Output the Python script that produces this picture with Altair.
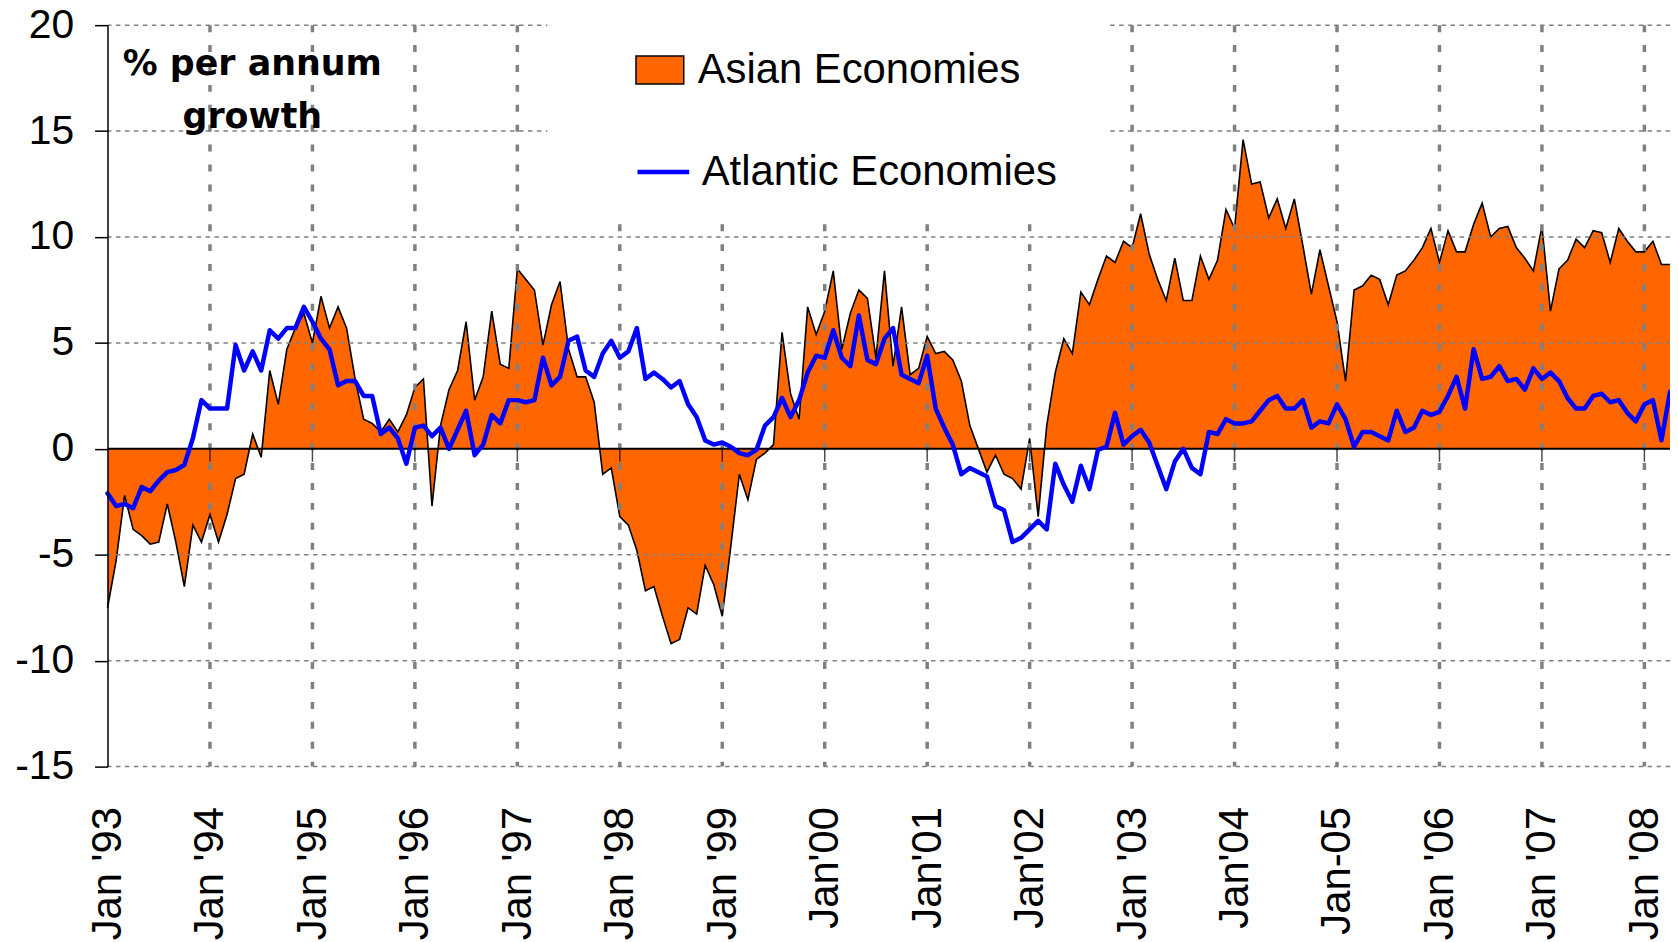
import json
import altair as alt
import pandas as pd

# Monthly data, Jan 1993 .. Apr 2008 (% per annum growth)
asian = [
    -7.5, -5.3, -2.2, -3.8, -4.1, -4.5, -4.4, -2.6, -4.4, -6.5, -3.6, -4.4,   # 1993
    -3.1, -4.4, -3.1, -1.4, -1.2, 0.7, -0.4, 3.7, 2.1, 4.7, 5.7, 6.4,         # 1994
    5.0, 7.2, 5.7, 6.7, 5.7, 3.3, 1.4, 1.2, 0.8, 1.4, 0.8, 1.6,               # 1995
    2.9, 3.3, -2.7, 1.1, 2.8, 3.7, 6.0, 2.3, 3.4, 6.5, 4.0, 3.8,              # 1996
    8.5, 8.0, 7.5, 4.9, 6.8, 7.9, 4.7, 3.4, 3.4, 2.2, -1.2, -0.9,             # 1997
    -3.2, -3.6, -4.8, -6.7, -6.5, -7.9, -9.2, -9.0, -7.5, -7.8, -5.5, -6.4,   # 1998
    -7.9, -4.6, -1.2, -2.4, -0.5, -0.2, 0.2, 5.5, 2.6, 1.4, 6.7, 5.4,         # 1999
    6.5, 8.4, 4.7, 6.4, 7.5, 7.1, 4.3, 8.4, 3.9, 6.7, 3.5, 3.8,               # 2000
    5.3, 4.5, 4.6, 4.2, 3.2, 1.1, 0.0, -1.1, -0.3, -1.2, -1.4, -1.9,          # 2001
    0.5, -3.2, 1.1, 3.6, 5.2, 4.5, 7.4, 6.8, 8.0, 9.1, 8.8, 9.8,              # 2002
    9.5, 11.1, 9.2, 8.0, 7.0, 9.0, 7.0, 7.0, 9.1, 8.0, 8.9, 11.3,             # 2003
    10.4, 14.6, 12.5, 12.6, 10.9, 11.8, 10.4, 11.8, 9.6, 7.3, 9.4, 7.7,       # 2004
    6.0, 3.2, 7.5, 7.7, 8.2, 8.0, 6.8, 8.2, 8.4, 8.9, 9.5, 10.4,              # 2005
    8.8, 10.3, 9.3, 9.3, 10.6, 11.6, 10.0, 10.4, 10.5, 9.5, 9.0, 8.4,         # 2006
    10.5, 6.5, 8.5, 8.9, 9.9, 9.5, 10.3, 10.2, 8.8, 10.4, 9.8, 9.3,           # 2007
    9.3, 9.8, 8.7, 8.7,                                                       # 2008
]
atlantic = [
    -2.1, -2.7, -2.6, -2.8, -1.8, -2.0, -1.5, -1.1, -1.0, -0.75, 0.5, 2.3,    # 1993
    1.9, 1.9, 1.9, 4.9, 3.7, 4.6, 3.7, 5.6, 5.2, 5.7, 5.7, 6.7,               # 1994
    6.0, 5.2, 4.7, 3.0, 3.2, 3.2, 2.5, 2.5, 0.7, 1.0, 0.5, -0.7,              # 1995
    1.0, 1.1, 0.6, 1.0, 0.0, 0.9, 1.8, -0.3, 0.2, 1.6, 1.2, 2.3,              # 1996
    2.3, 2.2, 2.3, 4.3, 3.0, 3.4, 5.1, 5.3, 3.7, 3.4, 4.5, 5.1,               # 1997
    4.3, 4.6, 5.7, 3.3, 3.6, 3.3, 2.9, 3.2, 2.1, 1.5, 0.4, 0.2,               # 1998
    0.3, 0.1, -0.2, -0.3, -0.05, 1.1, 1.5, 2.4, 1.5, 2.3, 3.6, 4.4,           # 1999
    4.3, 5.6, 4.3, 3.9, 6.3, 4.2, 4.0, 5.2, 5.7, 3.5, 3.3, 3.1,               # 2000
    4.4, 1.9, 1.0, 0.2, -1.2, -0.9, -1.1, -1.3, -2.7, -2.9, -4.4, -4.2,       # 2001
    -3.8, -3.4, -3.8, -0.7, -1.7, -2.5, -0.8, -1.9, -0.05, 0.1, 1.7, 0.2,     # 2002
    0.6, 0.9, 0.3, -0.8, -1.9, -0.6, 0.0, -0.9, -1.2, 0.8, 0.7, 1.4,          # 2003
    1.2, 1.2, 1.3, 1.8, 2.3, 2.5, 1.9, 1.9, 2.3, 1.0, 1.3, 1.2,               # 2004
    2.1, 1.4, 0.1, 0.8, 0.8, 0.6, 0.4, 1.8, 0.8, 1.0, 1.8, 1.6,               # 2005
    1.75, 2.5, 3.4, 1.9, 4.7, 3.3, 3.4, 3.9, 3.2, 3.3, 2.8, 3.8,              # 2006
    3.3, 3.6, 3.2, 2.4, 1.9, 1.9, 2.5, 2.6, 2.2, 2.3, 1.7, 1.3,               # 2007
    2.1, 2.3, 0.4, 2.7,                                                       # 2008
]

tick_months = [0, 12, 24, 36, 48, 60, 72, 84, 96, 108, 120, 132, 144, 156, 168, 180]
tick_labels = ["Jan '93", "Jan '94", "Jan '95", "Jan '96", "Jan '97", "Jan '98",
               "Jan '99", "Jan'00", "Jan'01", "Jan'02", "Jan '03", "Jan'04",
               "Jan-05", "Jan '06", "Jan '07", "Jan '08"]
y_ticks = [20, 15, 10, 5, 0, -5, -10, -15]
series_names = ["Asian Economies", "Atlantic Economies"]
series_colors = ["#FF6600", "#0000FF"]
y_title = ["% per annum", "growth"]

df = pd.DataFrame({
    "month": list(range(len(asian))),
    "asian": asian,
    "atlantic": atlantic,
    "s_asian": series_names[0],
    "s_atl": series_names[1],
})
vgrid_df = pd.DataFrame({"month": tick_months[1:]})
hgrid_df = pd.DataFrame({"value": [v for v in y_ticks if v != 0]})
zero_df = pd.DataFrame({"value": [0]})
zticks_df = pd.DataFrame({"month": tick_months[1:], "value": [0] * (len(tick_months) - 1)})

W, H = 1570, 745
FONT = "Liberation Sans"
GRID = "#808080"

label_expr = json.dumps(tick_labels) + "[round(datum.value / 12)]"

x_scale = alt.Scale(domain=[0, len(asian) - 1], nice=False, zero=False)
y_scale = alt.Scale(domain=[-15, 20], nice=False, zero=False)

x_axis = alt.Axis(values=tick_months, labelExpr=label_expr, labelAngle=270,
                  labelFont=FONT, labelFontSize=42, labelColor="black",
                  labelPadding=40, labelFlush=False, labelOverlap=False,
                  ticks=False, tickSize=0, domain=False, grid=False, title=None)
y_axis = alt.Axis(values=y_ticks, labelExpr="'' + datum.value",
                  labelFont=FONT, labelFontSize=41, labelColor="black",
                  labelPadding=21, labelFlush=False, labelOverlap=False,
                  ticks=True, tickSize=13, tickColor="black", tickWidth=1.5,
                  domain=True, domainColor="black", domainWidth=1.5, grid=False,
                  title=y_title, titleFont="DejaVu Sans", titleFontSize=35,
                  titleFontWeight="bold", titleColor="black", titleAngle=0,
                  titleAlign="center", titleBaseline="alphabetic",
                  titleX=145, titleY=50, titleLineHeight=53, zindex=1)


def X():
    return alt.X("month:Q", scale=x_scale, axis=x_axis)


def Y(field):
    return alt.Y(f"{field}:Q", scale=y_scale, axis=y_axis)


legend_asian = alt.Legend(
    orient="none", legendX=442, legendY=-68, padding=88, fillColor="white",
    title=None, labelFont=FONT, labelFontSize=42, labelColor="black",
    labelOffset=13, labelLimit=900,
    symbolType="M-1,-0.583H1V0.583H-1Z", symbolSize=2304,
    symbolStrokeColor="black", symbolStrokeWidth=1.5, symbolOpacity=1)

legend_atl = alt.Legend(
    orient="none", legendX=504, legendY=93, padding=26, fillColor="white",
    title=None, labelFont=FONT, labelFontSize=42, labelColor="black",
    labelOffset=10, labelLimit=900,
    symbolType="stroke", symbolSize=2704, symbolStrokeWidth=4.5)

area = alt.Chart(df).mark_area(opacity=1).encode(
    x=X(), y=Y("asian"),
    fill=alt.Fill("s_asian:N",
                  scale=alt.Scale(domain=[series_names[0]], range=[series_colors[0]]),
                  legend=legend_asian))

outline = alt.Chart(df).mark_line(color="black", strokeWidth=1.6).encode(
    x=X(), y=Y("asian"))

vgrid = alt.Chart(vgrid_df).mark_rule(color=GRID, strokeWidth=3.5, strokeDash=[7, 13]).encode(
    x=X())

hgrid = alt.Chart(hgrid_df).mark_rule(color=GRID, strokeWidth=1.5, strokeDash=[4.5, 4.5]).encode(
    y=Y("value"))

zero = alt.Chart(zero_df).mark_rule(color="black", strokeWidth=2).encode(
    y=Y("value"))

zticks = alt.Chart(zticks_df).mark_tick(color="black", thickness=1.5, size=13,
                                        orient="vertical", yOffset=6.5).encode(
    x=X(), y=Y("value"))

atl_line = alt.Chart(df).mark_line(strokeWidth=4.5, strokeJoin="round", strokeCap="round").encode(
    x=X(), y=Y("atlantic"),
    stroke=alt.Stroke("s_atl:N",
                      scale=alt.Scale(domain=[series_names[1]], range=[series_colors[1]]),
                      legend=legend_atl))

chart = alt.layer(area, outline, vgrid, hgrid, zero, zticks, atl_line).properties(
    width=W, height=H,
    autosize=alt.AutoSizeParams(type="none"),
    padding={"left": 100, "top": 15, "right": 0, "bottom": 180},
    background="white",
).configure_view(stroke=None)

chart.save("out.html", embed_options={"renderer": "svg", "actions": False})
